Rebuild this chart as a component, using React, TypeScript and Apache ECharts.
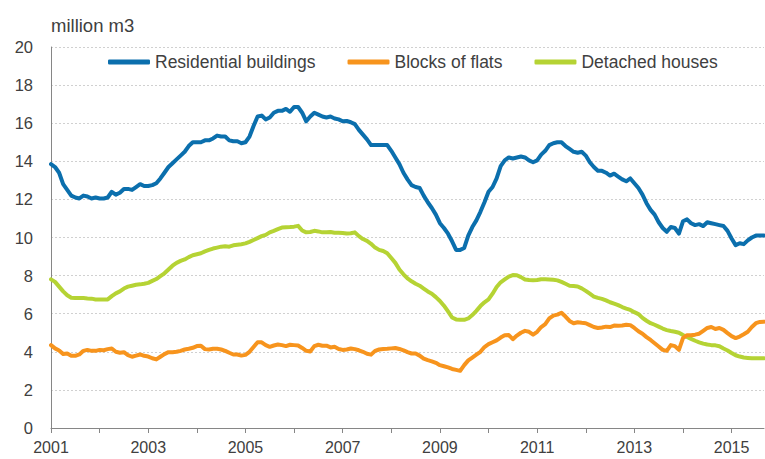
import React, { useEffect, useRef } from "react";
import * as echarts from "echarts";

const years = [2001, 2002, 2003, 2004, 2005, 2006, 2007, 2008, 2009, 2010, 2011, 2012, 2013, 2014, 2015];
const monthNames = ["01", "02", "03", "04", "05", "06", "07", "08", "09", "10", "11", "12"];
const lastMonthCount = 177;

const residential = [
  13.85, 13.7, 13.4, 12.8, 12.5, 12.2, 12.1, 12.05, 12.2, 12.15, 12.05, 12.1,
  12.05, 12.05, 12.1, 12.4, 12.25, 12.35, 12.55, 12.55, 12.5, 12.65, 12.8, 12.7,
  12.7, 12.75, 12.85, 13.1, 13.4, 13.7, 13.9, 14.1, 14.3, 14.5, 14.8, 15.0,
  15.0, 15.0, 15.1, 15.1, 15.2, 15.35, 15.3, 15.3, 15.1, 15.05, 15.05, 14.95,
  15.0, 15.3, 15.85, 16.35, 16.4, 16.2, 16.3, 16.55, 16.65, 16.65, 16.75, 16.6,
  16.85, 16.85, 16.55, 16.1, 16.35, 16.55, 16.45, 16.35, 16.3, 16.35, 16.25, 16.2,
  16.1, 16.12, 16.05, 15.95, 15.65, 15.4, 15.15, 14.85, 14.85, 14.85, 14.85, 14.85,
  14.55, 14.2, 13.85, 13.4, 13.05, 12.75, 12.65, 12.6, 12.2, 11.85, 11.55, 11.2,
  10.75, 10.5, 10.2, 9.8, 9.35, 9.35, 9.45, 10.1, 10.55, 10.9, 11.35, 11.85,
  12.4, 12.65, 13.1, 13.75, 14.05, 14.2, 14.15, 14.2, 14.25, 14.2, 14.05, 13.95,
  14.05, 14.35, 14.55, 14.85, 14.95, 15.0, 15.0, 14.8, 14.65, 14.5, 14.45, 14.5,
  14.3, 13.95, 13.7, 13.5, 13.5, 13.4, 13.25, 13.35, 13.2, 13.05, 12.95, 13.1,
  12.85, 12.6, 12.25, 11.8, 11.45, 11.2, 10.8, 10.5, 10.3, 10.55, 10.5, 10.2,
  10.85, 10.95, 10.75, 10.65, 10.7, 10.6, 10.8, 10.75, 10.7, 10.65, 10.6, 10.35,
  9.95, 9.6, 9.7, 9.65, 9.85, 10.0, 10.1, 10.1, 10.1,
];

const blocksOfFlats = [
  4.35, 4.18, 4.07, 3.88, 3.91, 3.79, 3.79, 3.86, 4.05, 4.1, 4.05, 4.05,
  4.1, 4.08, 4.14, 4.17, 4.0, 3.95, 3.98, 3.82, 3.74, 3.8, 3.86, 3.79,
  3.75, 3.66, 3.6, 3.74, 3.88, 3.98, 3.98, 4.0, 4.05, 4.12, 4.16, 4.21,
  4.3, 4.32, 4.14, 4.12, 4.16, 4.16, 4.12, 4.05, 3.95, 3.86, 3.86, 3.8,
  3.84, 4.0, 4.25, 4.5, 4.5, 4.35, 4.26, 4.33, 4.38, 4.35, 4.3, 4.37,
  4.35, 4.33, 4.2, 4.05, 4.02, 4.3, 4.37, 4.32, 4.32, 4.23, 4.26, 4.15,
  4.1, 4.12, 4.17, 4.14, 4.08, 4.0, 3.9, 3.85, 4.05, 4.12, 4.15, 4.16,
  4.18, 4.2, 4.15, 4.08, 3.98, 3.91, 3.91, 3.8, 3.64, 3.56, 3.5, 3.42,
  3.3, 3.24, 3.18, 3.1, 3.05, 3.0, 3.3, 3.55, 3.7, 3.85, 4.0, 4.25,
  4.4, 4.5, 4.6, 4.75, 4.87, 4.88, 4.66, 4.85, 5.0, 5.1, 5.05, 4.9,
  5.05, 5.3, 5.45, 5.75, 5.9, 5.95, 6.05, 5.85, 5.62, 5.5, 5.55, 5.52,
  5.5, 5.4, 5.3, 5.25, 5.28, 5.32, 5.3, 5.38, 5.37, 5.38, 5.42, 5.4,
  5.25, 5.08, 4.95, 4.77, 4.62, 4.45, 4.28, 4.1, 4.05, 4.35, 4.3, 4.1,
  4.72, 4.87, 4.87, 4.9, 4.95, 5.1, 5.25, 5.3, 5.2, 5.25, 5.15, 4.98,
  4.82, 4.72, 4.8, 4.92, 5.05, 5.3, 5.5, 5.57, 5.58,
];

const detachedHouses = [
  7.8, 7.67, 7.42, 7.17, 6.97, 6.84, 6.82, 6.82, 6.82, 6.8, 6.79, 6.75,
  6.75, 6.74, 6.75, 6.92, 7.07, 7.17, 7.32, 7.42, 7.47, 7.52, 7.54, 7.57,
  7.62, 7.72, 7.82, 7.97, 8.12, 8.32, 8.52, 8.67, 8.77, 8.85, 8.97, 9.07,
  9.12, 9.17, 9.27, 9.35, 9.42, 9.47, 9.52, 9.54, 9.52, 9.59, 9.62, 9.65,
  9.69, 9.77, 9.87, 9.97, 10.07, 10.14, 10.27, 10.35, 10.44, 10.52, 10.54, 10.55,
  10.57, 10.61, 10.37, 10.27, 10.29, 10.35, 10.32, 10.27, 10.27, 10.29, 10.25, 10.25,
  10.24, 10.21, 10.22, 10.27, 10.07, 9.92, 9.82, 9.67, 9.47, 9.35, 9.29, 9.17,
  8.92, 8.67, 8.32, 8.07, 7.85, 7.7, 7.57, 7.47, 7.32, 7.17, 7.05, 6.87,
  6.67, 6.42, 6.12, 5.8, 5.7, 5.68, 5.68, 5.75, 5.93, 6.15, 6.4, 6.6,
  6.75, 7.05, 7.4, 7.65, 7.8, 7.95, 8.03, 8.02, 7.92, 7.8, 7.77, 7.75,
  7.77, 7.81, 7.81, 7.8, 7.78, 7.75, 7.67, 7.57, 7.47, 7.45, 7.43, 7.33,
  7.2, 7.05, 6.9, 6.83, 6.78, 6.7, 6.6, 6.53, 6.45, 6.35, 6.27, 6.2,
  6.08, 5.98, 5.78, 5.63, 5.5, 5.42, 5.32, 5.22, 5.14, 5.09, 5.05, 5.0,
  4.88, 4.78, 4.68, 4.58, 4.5, 4.43, 4.38, 4.35, 4.34, 4.29, 4.17, 4.07,
  3.94, 3.82, 3.75, 3.7, 3.68, 3.66, 3.66, 3.66, 3.66,
];

const seriesNames = ["Residential buildings", "Blocks of flats", "Detached houses"];
const seriesColors = ["#0b6fad", "#f7941d", "#b5d334"];

const categories: string[] = years
  .flatMap((y) => monthNames.map((m) => `${y}M${m}`))
  .slice(0, lastMonthCount);

const FONT = "'Liberation Sans', Arial, sans-serif";
const TEXT = "#404040";

export default function App() {
  const ref = useRef<HTMLDivElement>(null);
  useEffect(() => {
    if (!ref.current) return;
    const chart = echarts.init(ref.current, undefined, { renderer: "svg" });
    const datasets = [residential, blocksOfFlats, detachedHouses];
    chart.setOption({
      animation: false,
      backgroundColor: "#ffffff",
      textStyle: { fontFamily: FONT },
      title: {
        text: "million m3",
        left: 46,
        top: 11,
        textStyle: { fontFamily: FONT, fontSize: 18.5, fontWeight: "normal", color: TEXT },
      },
      legend: {
        left: 103,
        top: 48,
        itemWidth: 42,
        itemHeight: 5,
        itemGap: 32,
        icon: "roundRect",
        textStyle: { fontFamily: FONT, fontSize: 17.5, color: TEXT },
        data: seriesNames,
      },
      grid: { left: 51, right: 1, top: 47, bottom: 31, containLabel: false },
      xAxis: {
        type: "category",
        data: categories,
        boundaryGap: false,
        axisLine: { lineStyle: { color: "#868686", width: 1 } },
        axisTick: {
          show: true,
          length: 5,
          interval: (i: number) => i % 12 === 0,
          lineStyle: { color: "#868686" },
        },
        axisLabel: {
          interval: (i: number) => i % 24 === 0,
          formatter: (v: string) => v.slice(0, 4),
          fontFamily: FONT,
          fontSize: 16,
          color: TEXT,
          margin: 11,
        },
        splitLine: { show: false },
      },
      yAxis: {
        type: "value",
        min: 0,
        max: 20,
        interval: 2,
        axisLine: { show: true, lineStyle: { color: "#868686", width: 1 } },
        axisTick: { show: false },
        axisLabel: { fontFamily: FONT, fontSize: 16.5, color: TEXT, margin: 18 },
        splitLine: { lineStyle: { color: "#d0d0d0", type: [2, 2], width: 1 } },
      },
      series: seriesNames.map((name, k) => ({
        name,
        type: "line",
        data: datasets[k],
        showSymbol: false,
        symbol: "none",
        color: seriesColors[k],
        lineStyle: { width: 4, color: seriesColors[k], cap: "round", join: "round" },
        z: k === 0 ? 4 : k === 1 ? 3 : 2,
      })),
    });
    return () => chart.dispose();
  }, []);
  return (
    <div
      ref={ref}
      style={{ position: "fixed", left: 0, top: 0, width: 765, height: 459 }}
    />
  );
}
